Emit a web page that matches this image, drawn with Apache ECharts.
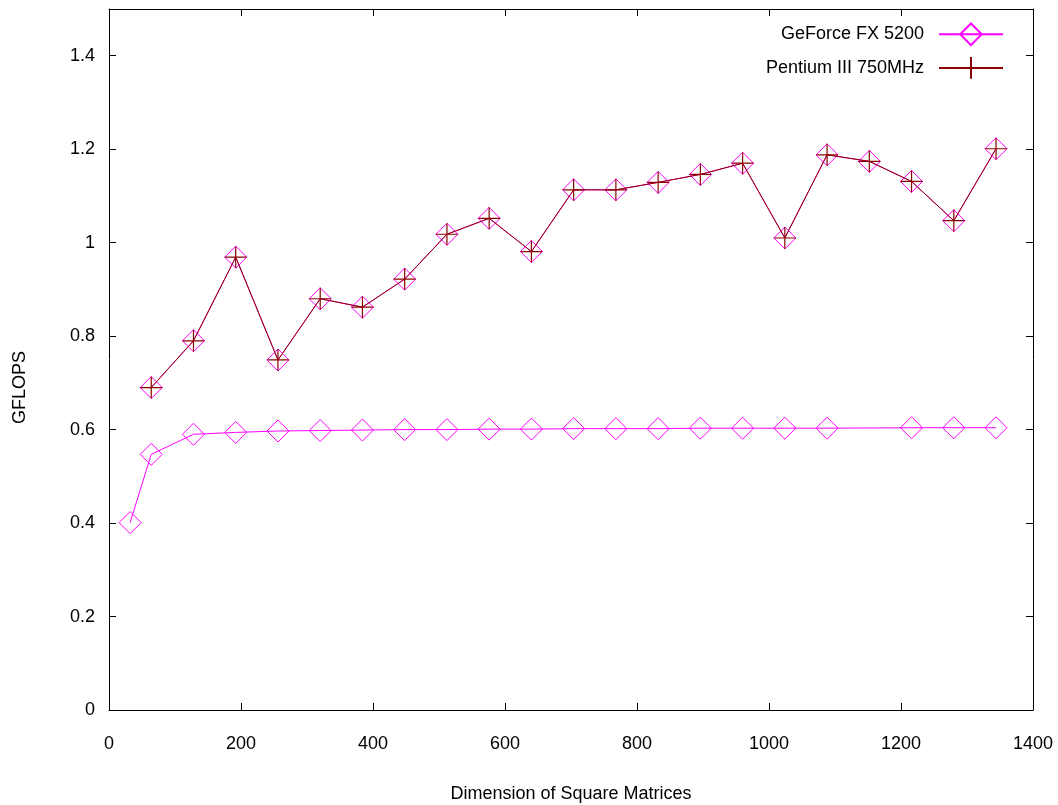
<!DOCTYPE html>
<html>
<head>
<meta charset="utf-8">
<script src="https://cdn.jsdelivr.net/npm/echarts@6/dist/echarts.min.js"></script>
<style>
  html, body { margin: 0; padding: 0; background: #fff; }
  #chart { width: 1058px; height: 805px; }
</style>
</head>
<body>
<div id="chart"></div>
<script>
// matrix size (x) and GFLOPS (y)
var gpuSizes = [32, 64, 128, 192, 256, 320, 384, 448, 512, 576, 640, 704, 768, 832, 896, 960, 1024, 1088, 1216, 1280, 1344]
var gpuFlops = [0.401, 0.547, 0.590, 0.594, 0.597, 0.598, 0.599, 0.600, 0.600, 0.601, 0.601, 0.602, 0.602, 0.602, 0.603, 0.603, 0.603, 0.603, 0.604, 0.604, 0.604]
var cpuSizes = [64, 128, 192, 256, 320, 384, 448, 512, 576, 640, 704, 768, 832, 896, 960, 1024, 1088, 1152, 1216, 1280, 1344]
var cpuFlops = [0.690, 0.790, 0.969, 0.749, 0.880, 0.862, 0.922, 1.018, 1.052, 0.981, 1.113, 1.113, 1.129, 1.146, 1.170, 1.010, 1.188, 1.174, 1.131, 1.047, 1.201]
var xTicks = [0, 200, 400, 600, 800, 1000, 1200, 1400]
var yTicks = [0, 0.2, 0.4, 0.6, 0.8, 1, 1.2, 1.4]

var FONT = 'Liberation Sans, Arial, sans-serif'
var PINK = '#ff00ff'
var DARKRED = '#8b0000'
var PLUS = 'path://M0,-1L0,1M-1,0L1,0'

function pairs(xs, ys) {
  return xs.map(function(x, i) { return [x, ys[i]] })
}

var chart = echarts.init(document.getElementById('chart'))

var frameAxis = {
  axisLine: { show: true, onZero: false, lineStyle: { color: '#000', width: 1 } },
  axisTick: { show: true, inside: true, length: 7, lineStyle: { color: '#000' } },
  splitLine: { show: false }
}

chart.setOption({
  animation: false,
  backgroundColor: '#fff',
  textStyle: { fontFamily: FONT },
  grid: { left: 109, right: 25, top: 9, bottom: 95, outerBoundsMode: 'none' },
  legend: {
    data: ['GeForce FX 5200', 'Pentium III 750MHz'],
    orient: 'vertical',
    right: 49,
    top: 16,
    align: 'right',
    itemWidth: 64,
    itemHeight: 27,
    itemGap: 7,
    textStyle: { fontFamily: FONT, fontSize: 18, color: '#000', padding: [0, 10, 0, 0] }
  },
  xAxis: [
    Object.assign({
      type: 'value',
      min: 0,
      max: xTicks[xTicks.length - 1],
      interval: xTicks[1] - xTicks[0],
      name: 'Dimension of Square Matrices',
      nameLocation: 'middle',
      nameGap: 75,
      nameTextStyle: { fontFamily: FONT, fontSize: 18, color: '#000' },
      axisLabel: {
        margin: 25, fontSize: 18, color: '#000', fontFamily: FONT,
        formatter: function(v) { return String(v) }
      }
    }, frameAxis),
    Object.assign({
      type: 'value',
      position: 'top',
      min: 0,
      max: xTicks[xTicks.length - 1],
      interval: xTicks[1] - xTicks[0],
      axisLabel: { show: false }
    }, frameAxis)
  ],
  yAxis: [
    Object.assign({
      type: 'value',
      min: 0,
      max: 1.5,
      interval: yTicks[1] - yTicks[0],
      name: 'GFLOPS',
      nameLocation: 'middle',
      nameGap: 80,
      nameTextStyle: { fontFamily: FONT, fontSize: 18, color: '#000', padding: [0, 56, 0, 0] },
      axisLabel: { margin: 14, fontSize: 18, color: '#000', fontFamily: FONT, showMaxLabel: false }
    }, frameAxis),
    Object.assign({
      type: 'value',
      position: 'right',
      min: 0,
      max: 1.5,
      interval: yTicks[1] - yTicks[0],
      axisLabel: { show: false }
    }, frameAxis)
  ],
  series: [
    {
      name: 'GeForce FX 5200',
      type: 'line',
      data: pairs(gpuSizes, gpuFlops),
      symbol: 'diamond',
      symbolSize: 22,
      lineStyle: { color: PINK, width: 1 },
      itemStyle: { color: 'none', borderColor: PINK, borderWidth: 1 },
      z: 2
    },
    // the plot also has GeForce-style diamonds sitting on the CPU curve
    {
      name: 'overlay',
      type: 'line',
      data: pairs(cpuSizes, cpuFlops),
      symbol: 'diamond',
      symbolSize: 22,
      lineStyle: { color: PINK, width: 1 },
      itemStyle: { color: 'none', borderColor: PINK, borderWidth: 1 },
      z: 3
    },
    {
      name: 'Pentium III 750MHz',
      type: 'line',
      data: pairs(cpuSizes, cpuFlops),
      symbol: PLUS,
      symbolSize: 22,
      lineStyle: { color: DARKRED, width: 1 },
      itemStyle: { color: 'none', borderColor: DARKRED, borderWidth: 1.2 },
      z: 4
    }
  ]
})
</script>
</body>
</html>
